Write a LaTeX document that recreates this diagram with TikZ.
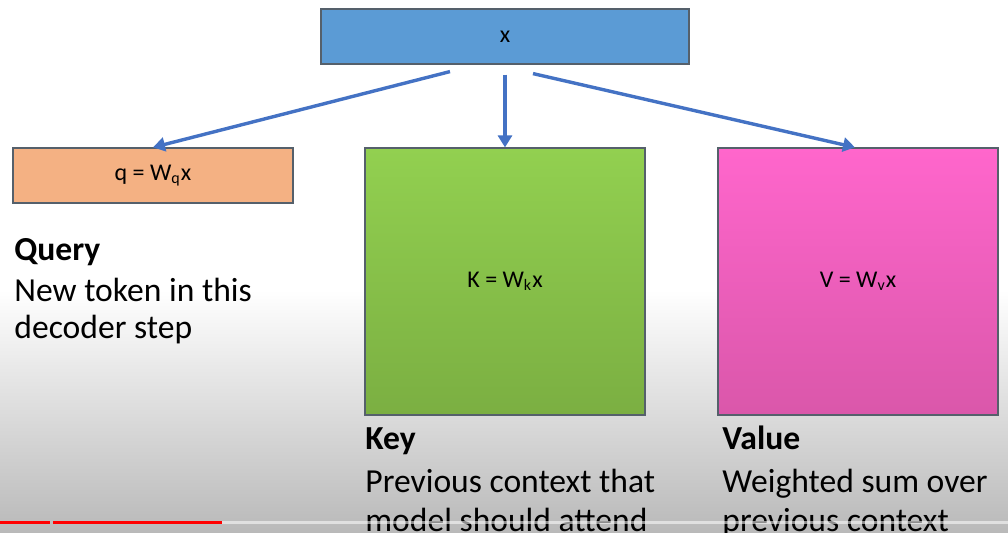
\documentclass[tikz,border=0pt]{standalone}
\usepackage{fontspec}
\setmainfont{Carlito}
\usetikzlibrary{arrows.meta,calc}
\definecolor{xblue}{HTML}{5B9BD5}
\definecolor{xborder}{HTML}{55606B}
\definecolor{qorange}{HTML}{F4B183}
\definecolor{kgreentop}{HTML}{92D050}
\definecolor{kgreenbot}{HTML}{7BAF42}
\definecolor{vpinktop}{HTML}{FF66CC}
\definecolor{vpinkbot}{HTML}{DA57AA}
\definecolor{arrblue}{HTML}{4472C4}
\definecolor{bggray}{HTML}{B9B9B9}
\definecolor{ytred}{HTML}{FF0000}
\begin{document}
\begin{tikzpicture}[x=0.5pt,y=-0.5pt,
  box/.style={draw=xborder,line width=0.6pt,inner sep=0pt,font=\fontsize{12}{14}\selectfont},
  arr/.style={draw=arrblue,line width=1.7pt,-{Triangle[length=6pt,width=7pt]}},
  head/.style={anchor=base west,inner sep=0pt,font=\fontsize{16.8}{20}\selectfont\bfseries},
  body/.style={anchor=base west,inner sep=0pt,font=\fontsize{16.8}{20}\selectfont}]
\useasboundingbox (0,0) rectangle (1008,533);
\fill[white] (0,0) rectangle (1008,533);
\shade[top color=white,bottom color=bggray] (0,290) rectangle (1008,533);

\node[box,fill=xblue,minimum width=184pt,minimum height=27.5pt] (xb) at (505,36.5) {x};
\node[box,fill=qorange,minimum width=140pt,minimum height=27.5pt] (q) at (153,175.5) {q = W\textsubscript{q}x};
\node[box,top color=kgreentop,bottom color=kgreenbot,minimum width=140pt,minimum height=133.5pt] (K) at (505,281.5) {K = W\textsubscript{k}x};
\node[box,top color=vpinktop,bottom color=vpinkbot,minimum width=140pt,minimum height=133.5pt] (V) at (858,281.5) {V = W\textsubscript{v}x};

\coordinate (s1) at ($(xb.south)+(-55,7)$);
\coordinate (s2) at ($(xb.south)+(0,10)$);
\coordinate (s3) at ($(xb.south)+(28,9)$);
\draw[arr] (s1) -- (q.north);
\draw[arr] (s2) -- (K.north);
\draw[arr] (s3) -- ($(V.north)+(-3,0)$);

\node[head] (qh) at (14,261) {Query};
\node[body] (q1) at (14,302) {New token in this};
\node[body] (q2) at (14,339) {decoder step};

\node[head] (kh) at (365,450) {Key};
\node[body] (k1) at (365,493) {Previous context that};
\node[body] (k2) at (365,532) {model should attend};

\node[head] (vh) at (722,450) {Value};
\node[body] (v1) at (722,493) {Weighted sum over};
\node[body] (v2) at (722,532) {previous context};

\fill[white,opacity=0.55] (222,521) rectangle (1008,524.5);
\fill[ytred] (0,521) rectangle (50,524.5);
\fill[ytred] (53,521) rectangle (222,524.5);
\end{tikzpicture}
\end{document}
